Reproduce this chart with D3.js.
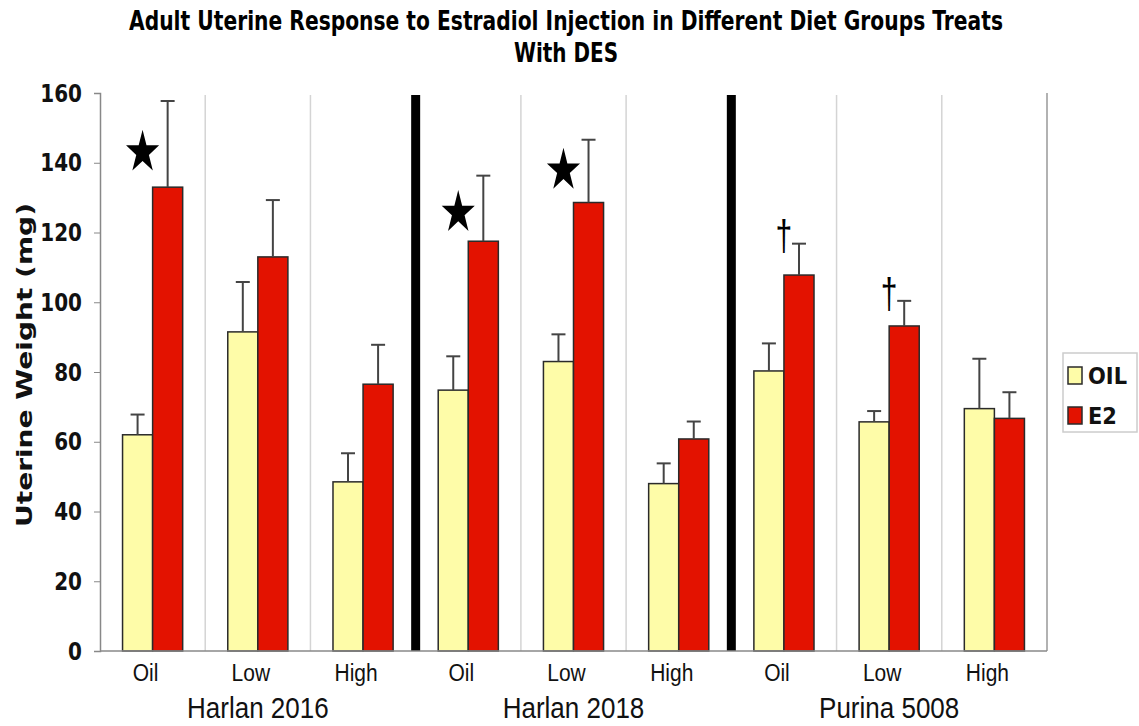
<!DOCTYPE html>
<html>
<head>
<meta charset="utf-8">
<script src="https://cdn.jsdelivr.net/npm/d3@7"></script>
<style>
  body { margin: 0; background: #fff; }
  svg { display: block; }
</style>
</head>
<body>
<div id="container"></div>
<script>
/* DATA */
const diets = ["Harlan 2016", "Harlan 2018", "Purina 5008"];
const doses = ["Oil", "Low", "High"];
const series = ["OIL", "E2"];
const oilMean = [62, 91.5, 48.5, 74.8, 83, 48, 80.3, 65.7, 69.5];
const oilSem  = [5.8, 14.3, 8.2, 9.7, 7.8, 5.8, 7.9, 3.1, 14.3];
const e2Mean  = [133, 113, 76.5, 117.5, 128.6, 60.8, 107.8, 93.2, 66.7];
const e2Sem   = [24.7, 16.3, 11.3, 18.8, 18, 5, 9, 7.2, 7.5];
const yTicks  = [0, 20, 40, 60, 80, 100, 120, 140, 160];
// significance marks: category index, symbol, value it sits at
const marks = [
  {i: 0, sym: "star", v: 143},
  {i: 3, sym: "star", v: 125.7},
  {i: 4, sym: "star", v: 137.8},
  {i: 6, sym: "dagger", v: 118.6},
  {i: 7, sym: "dagger", v: 102}
];

/* SIZES */
const W = 1139, H = 726;
const plotL = 100, plotR = 1047, plotT = 93, plotB = 651;
const colors = {OIL: "#fefca8", E2: "#e31200"};
const stretch = 1.2;   // the original picture is a bit taller than wide
const sans = "Liberation Sans, Arial, sans-serif";
const bold = "DejaVu Sans, Verdana, sans-serif";

/* CATEGORIES */
const cats = [];
diets.forEach((g, gi) => doses.forEach((d, di) => cats.push({
  key: g + "|" + d, diet: g, dose: d, idx: gi * 3 + di
})));

/* SCALES */
const x0 = d3.scaleBand().domain(cats.map(c => c.key)).range([plotL, plotR]);
const x1 = d3.scaleBand().domain(series).range([0, x0.bandwidth()]).paddingOuter(0.75);
const y = d3.scaleLinear().domain([0, 160]).range([plotB, plotT]);

const svg = d3.select("#container").append("svg")
    .attr("width", W).attr("height", H);

// text placed at (x, y) and stretched vertically
function label(sel, x, yy, k) {
  return sel.attr("x", 0).attr("y", 0)
    .attr("transform", "translate(" + x + "," + yy + ") scale(1," + (k || stretch) + ")");
}

/* TITLE */
label(svg.append("text"), 566, 30)
    .attr("text-anchor", "middle")
    .attr("font-family", bold)
    .attr("font-weight", "bold").attr("font-size", 22)
    .attr("textLength", 874).attr("lengthAdjust", "spacingAndGlyphs")
    .text("Adult Uterine Response to Estradiol Injection in Different Diet Groups Treats");
label(svg.append("text"), 566, 62)
    .attr("text-anchor", "middle")
    .attr("font-family", bold)
    .attr("font-weight", "bold").attr("font-size", 22)
    .attr("textLength", 104).attr("lengthAdjust", "spacingAndGlyphs")
    .text("With DES");

/* GRID LINES BETWEEN CATEGORIES */
const bounds = cats.slice(1).map(c => c.idx);
svg.append("g").selectAll("line")
  .data(bounds.filter(i => i % 3 !== 0))
  .join("line")
    .attr("x1", i => x0(cats[i].key)).attr("x2", i => x0(cats[i].key))
    .attr("y1", plotT + 2).attr("y2", plotB)
    .attr("stroke", "#d4d4d4").attr("stroke-width", 1.5);

/* THICK SEPARATORS BETWEEN DIETS */
svg.append("g").selectAll("line")
  .data(bounds.filter(i => i % 3 === 0))
  .join("line")
    .attr("x1", i => x0(cats[i].key)).attr("x2", i => x0(cats[i].key))
    .attr("y1", plotT + 2).attr("y2", plotB)
    .attr("stroke", "#000").attr("stroke-width", 9);

/* RIGHT BORDER */
svg.append("line")
    .attr("x1", plotR).attr("x2", plotR).attr("y1", plotT).attr("y2", plotB)
    .attr("stroke", "#999").attr("stroke-width", 1.5);

/* BARS */
const rows = [];
cats.forEach(c => {
  rows.push({c: c, s: "OIL", v: oilMean[c.idx], e: oilSem[c.idx]});
  rows.push({c: c, s: "E2", v: e2Mean[c.idx], e: e2Sem[c.idx]});
});

const barX = d => x0(d.c.key) + x1(d.s);
svg.append("g").selectAll("rect")
  .data(rows)
  .join("rect")
    .attr("x", barX)
    .attr("y", d => y(d.v))
    .attr("width", x1.bandwidth())
    .attr("height", d => y(0) - y(d.v))
    .attr("fill", d => colors[d.s])
    .attr("stroke", "#2a2a2a").attr("stroke-width", 1.5);

/* ERROR BARS */
const eb = svg.append("g").attr("stroke", "#444").attr("stroke-width", 2);
eb.selectAll("line.v")
  .data(rows)
  .join("line").attr("class", "v")
    .attr("x1", d => barX(d) + x1.bandwidth() / 2)
    .attr("x2", d => barX(d) + x1.bandwidth() / 2)
    .attr("y1", d => y(d.v)).attr("y2", d => y(d.v + d.e));
eb.selectAll("line.c")
  .data(rows)
  .join("line").attr("class", "c")
    .attr("x1", d => barX(d) + x1.bandwidth() / 2 - 7)
    .attr("x2", d => barX(d) + x1.bandwidth() / 2 + 7)
    .attr("y1", d => y(d.v + d.e)).attr("y2", d => y(d.v + d.e));

/* STARS AND DAGGERS */
const star = d3.symbol().type(d3.symbolStar).size(340);
svg.append("g").selectAll("path")
  .data(marks.filter(m => m.sym === "star"))
  .join("path")
    .attr("d", star)
    .attr("transform", m => "translate(" + (x0(cats[m.i].key) + x1("OIL") + x1.bandwidth() / 2 + 5) + "," + y(m.v) + ") scale(1,1.3)")
    .attr("fill", "#000");
svg.append("g").selectAll("text")
  .data(marks.filter(m => m.sym === "dagger"))
  .join("text")
    .attr("transform", m => "translate(" + (x0(cats[m.i].key) + x0.bandwidth() / 2) + "," + y(m.v) + ") scale(1,1.4)")
    .attr("dy", "0.3em")
    .attr("text-anchor", "middle")
    .attr("font-family", sans)
    .attr("font-size", 30)
    .text("\u2020");

/* Y AXIS */
const yAxis = svg.append("g")
    .attr("transform", "translate(" + plotL + ",0)")
    .call(d3.axisLeft(y).tickValues(yTicks).tickSize(6).tickPadding(12));
yAxis.select(".domain").attr("stroke", "#888").attr("stroke-width", 1.5);
yAxis.selectAll(".tick line").attr("stroke", "#888");
yAxis.selectAll(".tick text")
    .attr("transform", "scale(1,1.25)")
    .attr("font-family", bold)
    .attr("font-weight", "bold").attr("font-size", 20).attr("fill", "#111");

/* X AXIS LINE */
svg.append("line")
    .attr("x1", plotL).attr("x2", plotR).attr("y1", plotB).attr("y2", plotB)
    .attr("stroke", "#888").attr("stroke-width", 1.5);

/* DOSE LABELS */
svg.append("g").selectAll("text")
  .data(cats)
  .join("text")
    .each(function(c) { label(d3.select(this), x0(c.key) + x0.bandwidth() / 2 - 7, 681, 1.12); })
    .attr("text-anchor", "middle")
    .attr("font-family", sans)
    .attr("font-size", 21).attr("fill", "#111")
    .text(c => c.dose);

/* DIET LABELS */
svg.append("g").selectAll("text")
  .data(diets)
  .join("text")
    .each(function(g, gi) { label(d3.select(this), x0(cats[gi * 3 + 1].key) + x0.bandwidth() / 2, 718, 1.1); })
    .attr("text-anchor", "middle")
    .attr("font-family", sans)
    .attr("font-size", 26).attr("fill", "#111")
    .text(g => g);

/* Y-AXIS LABEL */
svg.append("text")
    .attr("transform", "translate(32,365) rotate(-90)")
    .attr("text-anchor", "middle")
    .attr("font-family", bold)
    .attr("font-weight", "bold").attr("font-size", 22)
    .attr("textLength", 324).attr("lengthAdjust", "spacingAndGlyphs")
    .attr("fill", "#111")
    .text("Uterine Weight (mg)");

/* LEGEND */
const lg = svg.append("g").attr("transform", "translate(1063,353)");
lg.append("rect")
    .attr("width", 74).attr("height", 79)
    .attr("fill", "#fff").attr("stroke", "#ccc").attr("stroke-width", 1.5);
lg.selectAll("g.item")
  .data(series)
  .join("g").attr("class", "item")
    .attr("transform", (s, i) => "translate(5," + (14 + i * 40) + ")")
    .each(function(s) {
      const g = d3.select(this);
      g.append("rect").attr("width", 14).attr("height", 17)
        .attr("fill", colors[s]).attr("stroke", "#2a2a2a").attr("stroke-width", 1.5);
      label(g.append("text"), 20, 17, 1.12)
        .attr("font-family", bold)
        .attr("font-weight", "bold").attr("font-size", 21).attr("fill", "#111")
        .text(s);
    });
</script>
</body>
</html>
